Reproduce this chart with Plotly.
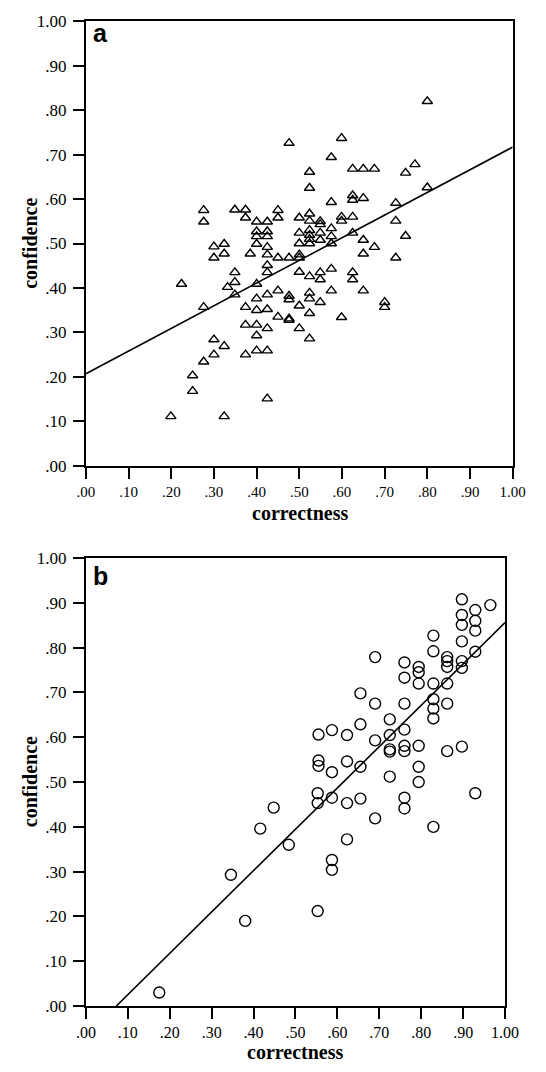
import plotly.graph_objects as go

# ---------------- data ----------------
a_correctness = [
    .276, .276, .349, .374, .374, .400, .425, .450, .450, .400, .400, .425, .425, .400,
    .425, .300, .300, .324, .324, .385, .425, .450, .425, .349, .425, .349, .332, .400,
    .224, .349, .425, .450, .276, .400, .374, .400, .425, .450, .374, .400, .425, .400,
    .300, .324, .300, .374, .400, .425, .276, .250, .250, .425, .199, .324,
    .476, .599, .575, .524, .524, .625, .650, .676, .749, .771, .575, .625, .625, .650,
    .726, .500, .524, .524, .549, .549, .599, .599, .625, .726, .500, .524, .524, .524,
    .549, .549, .575, .575, .575, .625, .749, .500, .524, .650, .676, .650, .726, .476,
    .500, .500, .500, .524, .549, .549, .575, .625, .625, .575, .650, .476, .476, .524,
    .524, .549, .500, .700, .700, .476, .476, .524, .599, .500, .524, .800, .800,
]
a_confidence = [
    .575, .549, .576, .576, .558, .549, .549, .575, .558, .527, .516, .527, .516, .499,
    .492, .493, .468, .499, .477, .477, .475, .468, .451, .435, .435, .413, .402, .409,
    .409, .385, .385, .394, .357, .376, .357, .350, .352, .335, .317, .317, .309, .293,
    .284, .269, .250, .250, .259, .259, .234, .203, .168, .151, .111, .111,
    .726, .737, .694, .661, .625, .668, .668, .668, .659, .678, .593, .608, .598, .602,
    .591, .558, .567, .551, .550, .543, .560, .551, .560, .551, .524, .530, .519, .510,
    .524, .508, .534, .516, .500, .524, .517, .500, .500, .508, .492, .477, .468, .468,
    .475, .468, .436, .426, .435, .419, .443, .435, .419, .394, .394, .382, .374, .389,
    .376, .368, .360, .368, .357, .331, .328, .343, .334, .309, .286, .820, .626,
]

b_correctness = [
    .175, .380, .346, .416, .448, .484, .553, .553, .587, .587, .587, .553, .623,
    .897, .897, .897, .929, .929, .929, .897, .829, .829, .862, .862, .862, .897, .897,
    .929, .690, .760, .760, .794, .794, .794, .829, .862, .655, .690, .760, .829, .829,
    .829, .862, .725, .655, .587, .555, .623, .760, .725, .690, .725, .725, .760, .760,
    .794, .862, .897, .555, .555, .587, .623, .655, .725, .794, .794, .623, .655, .760,
    .760, .690, .829, .929, .965,
]
b_confidence = [
    .030, .190, .293, .396, .443, .360, .475, .453, .465, .326, .304, .212, .372,
    .908, .873, .851, .884, .860, .838, .814, .827, .792, .779, .770, .757, .770, .755,
    .791, .779, .767, .733, .757, .745, .720, .720, .720, .698, .675, .675, .685, .664,
    .642, .675, .640, .629, .616, .606, .605, .617, .605, .593, .573, .568, .581, .569,
    .581, .569, .579, .548, .536, .522, .546, .534, .512, .534, .500, .453, .463, .465,
    .441, .419, .400, .475, .895,
]

# regression lines: (intercept, slope)
fit_a = (0.207, 0.510)
fit_b = (-0.067, 0.923)

tick_vals = [0, .1, .2, .3, .4, .5, .6, .7, .8, .9, 1.0]
tick_text = [".00", ".10", ".20", ".30", ".40", ".50", ".60", ".70", ".80", ".90", "1.00"]

x_title = "correctness"
y_title = "confidence"
panel_labels = ["a", "b"]

# ---------------- figure ----------------
W, H = 546, 1072
fig = go.Figure()

fig.add_trace(go.Scatter(
    x=a_correctness, y=a_confidence, mode="markers",
    marker=dict(symbol="triangle-up-open", size=9, color="black", line=dict(width=1.4, color="black")),
    xaxis="x", yaxis="y", showlegend=False, cliponaxis=False))
xa = [0.0, 1.0]
fig.add_trace(go.Scatter(
    x=xa, y=[fit_a[0] + fit_a[1] * v for v in xa], mode="lines",
    line=dict(color="black", width=1.6), xaxis="x", yaxis="y", showlegend=False))

fig.add_trace(go.Scatter(
    x=b_correctness, y=b_confidence, mode="markers",
    marker=dict(symbol="circle-open", size=11, color="black", line=dict(width=1.4, color="black")),
    xaxis="x2", yaxis="y2", showlegend=False, cliponaxis=False))
xb = [-fit_b[0] / fit_b[1], 1.0]
fig.add_trace(go.Scatter(
    x=xb, y=[fit_b[0] + fit_b[1] * v for v in xb], mode="lines",
    line=dict(color="black", width=1.6), xaxis="x2", yaxis="y2", showlegend=False))

def px_x(p):
    return p / W

def px_y(p):
    return 1 - p / H

axis_common = dict(
    range=[0, 1], tickmode="array", tickvals=tick_vals, ticktext=tick_text,
    ticks="outside", ticklen=11, tickwidth=1.8, tickcolor="black",
    showline=True, linecolor="black", linewidth=1.8, mirror=True,
    showgrid=False, zeroline=False, fixedrange=True,
)
y_tickfont = dict(family="Liberation Serif", size=17, color="black")
xa_tickfont = dict(family="Liberation Serif", size=15, color="black")
xb_tickfont = dict(family="Liberation Serif", size=16, color="black")

fig.update_layout(
    width=W, height=H, margin=dict(l=0, r=0, t=0, b=0),
    paper_bgcolor="white", plot_bgcolor="white",
    xaxis=dict(axis_common, domain=[px_x(79.4), px_x(525.8)], anchor="y", tickfont=xa_tickfont),
    yaxis=dict(axis_common, domain=[px_y(465), px_y(12.5)], anchor="x", tickfont=y_tickfont,
               ticklabelstandoff=3),
    xaxis2=dict(axis_common, domain=[px_x(79.4), px_x(517.8)], anchor="y2", tickfont=xb_tickfont),
    yaxis2=dict(axis_common, domain=[px_y(1015), px_y(559)], anchor="x2", tickfont=y_tickfont,
                ticklabelstandoff=3),
)

title_font = dict(family="Liberation Serif", size=20, color="black")
label_font = dict(family="Liberation Sans", size=25, color="black")
ann = []
# axis titles
ann.append(dict(text="<b>%s</b>" % x_title, x=px_x(303), y=px_y(513), xref="paper", yref="paper",
                xanchor="center", yanchor="middle", showarrow=False, font=title_font))
ann.append(dict(text="<b>%s</b>" % x_title, x=px_x(298), y=px_y(1062), xref="paper", yref="paper",
                xanchor="center", yanchor="middle", showarrow=False, font=title_font))
ann.append(dict(text="<b>%s</b>" % y_title, x=px_x(21), y=px_y(239), xref="paper", yref="paper",
                xanchor="center", yanchor="middle", showarrow=False, font=title_font, textangle=-90))
ann.append(dict(text="<b>%s</b>" % y_title, x=px_x(21), y=px_y(787), xref="paper", yref="paper",
                xanchor="center", yanchor="middle", showarrow=False, font=title_font, textangle=-90))
# panel letters
ann.append(dict(text="<b>%s</b>" % panel_labels[0], x=px_x(85), y=px_y(24), xref="paper", yref="paper",
                xanchor="left", yanchor="middle", showarrow=False, font=label_font))
ann.append(dict(text="<b>%s</b>" % panel_labels[1], x=px_x(85), y=px_y(577), xref="paper", yref="paper",
                xanchor="left", yanchor="middle", showarrow=False, font=label_font))
fig.update_layout(annotations=ann)

fig.write_html("out.html")
